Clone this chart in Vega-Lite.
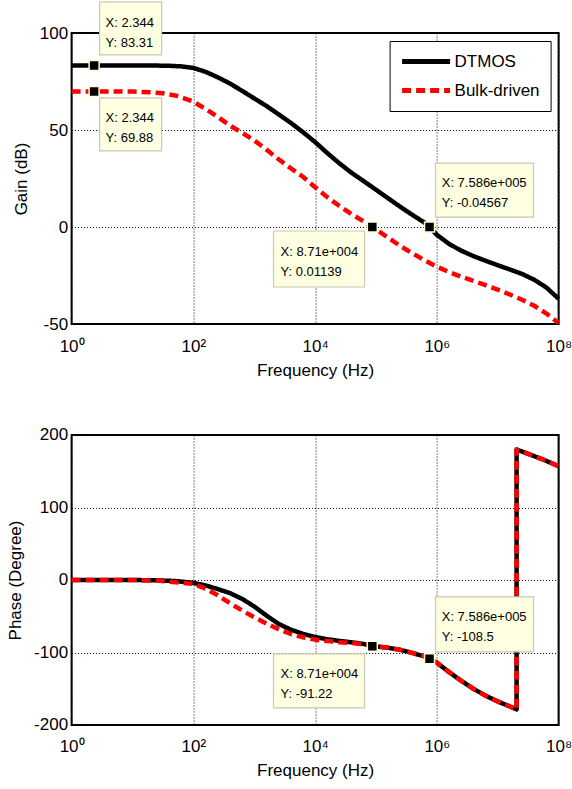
{
  "$schema": "https://vega.github.io/schema/vega-lite/v6.json",
  "background": "white",
  "autosize": {"type": "pad"},
  "padding": {"left": 4.6, "top": -2, "right": 0, "bottom": 0},
  "bounds": "flush",
  "spacing": 111,
  "config": {
    "font": "Liberation Sans",
    "view": {"stroke": "#000", "strokeWidth": 2},
    "axis": {"domain": false, "ticks": false, "grid": true, "gridColor": "#000", "gridDash": [1, 2], "gridWidth": 1, "gridOpacity": 1, "labelFont": "Liberation Sans", "labelFontSize": 17, "labelColor": "#000", "labelFlush": false, "labelOverlap": false, "titleFont": "Liberation Sans", "titleFontSize": 17, "titleFontWeight": "normal", "titleColor": "#000"},
    "axisX": {"labelPadding": 14, "titlePadding": 8},
    "axisY": {"labelPadding": 4, "titlePadding": 9}
  },
  "datasets": {
    "gain": [
      {"freq": 1, "gain": 83.31, "series": "DTMOS"},
      {"freq": 2.344, "gain": 83.31, "series": "DTMOS"},
      {"freq": 10, "gain": 83.3, "series": "DTMOS"},
      {"freq": 25.12, "gain": 83.2, "series": "DTMOS"},
      {"freq": 39.81, "gain": 83.1, "series": "DTMOS"},
      {"freq": 63.1, "gain": 82.8, "series": "DTMOS"},
      {"freq": 100, "gain": 82, "series": "DTMOS"},
      {"freq": 158.5, "gain": 80, "series": "DTMOS"},
      {"freq": 251.2, "gain": 77.2, "series": "DTMOS"},
      {"freq": 398.1, "gain": 74, "series": "DTMOS"},
      {"freq": 631, "gain": 70.2, "series": "DTMOS"},
      {"freq": 1000, "gain": 66.3, "series": "DTMOS"},
      {"freq": 1585, "gain": 62.4, "series": "DTMOS"},
      {"freq": 2512, "gain": 58.1, "series": "DTMOS"},
      {"freq": 3981, "gain": 53.7, "series": "DTMOS"},
      {"freq": 6310, "gain": 48.9, "series": "DTMOS"},
      {"freq": 10000, "gain": 43.8, "series": "DTMOS"},
      {"freq": 15850, "gain": 38.1, "series": "DTMOS"},
      {"freq": 25120, "gain": 32.8, "series": "DTMOS"},
      {"freq": 39810, "gain": 27.9, "series": "DTMOS"},
      {"freq": 63100, "gain": 23.6, "series": "DTMOS"},
      {"freq": 100000, "gain": 19.2, "series": "DTMOS"},
      {"freq": 158500, "gain": 14.8, "series": "DTMOS"},
      {"freq": 251200, "gain": 10.4, "series": "DTMOS"},
      {"freq": 398100, "gain": 6.2, "series": "DTMOS"},
      {"freq": 631000, "gain": 2.2, "series": "DTMOS"},
      {"freq": 758600, "gain": -0.04567, "series": "DTMOS"},
      {"freq": 1000000, "gain": -4, "series": "DTMOS"},
      {"freq": 1585000, "gain": -8.7, "series": "DTMOS"},
      {"freq": 2512000, "gain": -12.2, "series": "DTMOS"},
      {"freq": 3981000, "gain": -15, "series": "DTMOS"},
      {"freq": 6310000, "gain": -17.4, "series": "DTMOS"},
      {"freq": 10000000, "gain": -19.7, "series": "DTMOS"},
      {"freq": 15850000, "gain": -21.9, "series": "DTMOS"},
      {"freq": 25120000, "gain": -24.2, "series": "DTMOS"},
      {"freq": 39810000, "gain": -27.2, "series": "DTMOS"},
      {"freq": 63100000, "gain": -31.2, "series": "DTMOS"},
      {"freq": 100000000, "gain": -37, "series": "DTMOS"},
      {"freq": 1, "gain": 69.88, "series": "Bulk-driven"},
      {"freq": 2.344, "gain": 69.88, "series": "Bulk-driven"},
      {"freq": 10, "gain": 69.8, "series": "Bulk-driven"},
      {"freq": 19.95, "gain": 69.5, "series": "Bulk-driven"},
      {"freq": 31.62, "gain": 68.9, "series": "Bulk-driven"},
      {"freq": 50.12, "gain": 67.8, "series": "Bulk-driven"},
      {"freq": 70.79, "gain": 66.3, "series": "Bulk-driven"},
      {"freq": 100, "gain": 64.6, "series": "Bulk-driven"},
      {"freq": 158.5, "gain": 60.9, "series": "Bulk-driven"},
      {"freq": 251.2, "gain": 56.8, "series": "Bulk-driven"},
      {"freq": 398.1, "gain": 52.3, "series": "Bulk-driven"},
      {"freq": 631, "gain": 48.6, "series": "Bulk-driven"},
      {"freq": 1000, "gain": 44.6, "series": "Bulk-driven"},
      {"freq": 1585, "gain": 39.9, "series": "Bulk-driven"},
      {"freq": 2512, "gain": 34.9, "series": "Bulk-driven"},
      {"freq": 3981, "gain": 30.3, "series": "Bulk-driven"},
      {"freq": 6310, "gain": 25.9, "series": "Bulk-driven"},
      {"freq": 10000, "gain": 20.5, "series": "Bulk-driven"},
      {"freq": 15850, "gain": 15.4, "series": "Bulk-driven"},
      {"freq": 25120, "gain": 10.8, "series": "Bulk-driven"},
      {"freq": 39810, "gain": 6.6, "series": "Bulk-driven"},
      {"freq": 63100, "gain": 2.8, "series": "Bulk-driven"},
      {"freq": 87100, "gain": 0.01139, "series": "Bulk-driven"},
      {"freq": 100000, "gain": -1.2, "series": "Bulk-driven"},
      {"freq": 158500, "gain": -5.5, "series": "Bulk-driven"},
      {"freq": 251200, "gain": -9.8, "series": "Bulk-driven"},
      {"freq": 398100, "gain": -13.6, "series": "Bulk-driven"},
      {"freq": 631000, "gain": -17.2, "series": "Bulk-driven"},
      {"freq": 1000000, "gain": -20.5, "series": "Bulk-driven"},
      {"freq": 1585000, "gain": -23.2, "series": "Bulk-driven"},
      {"freq": 2512000, "gain": -25.6, "series": "Bulk-driven"},
      {"freq": 3981000, "gain": -27.8, "series": "Bulk-driven"},
      {"freq": 6310000, "gain": -30, "series": "Bulk-driven"},
      {"freq": 10000000, "gain": -32.3, "series": "Bulk-driven"},
      {"freq": 15850000, "gain": -34.8, "series": "Bulk-driven"},
      {"freq": 25120000, "gain": -37.5, "series": "Bulk-driven"},
      {"freq": 39810000, "gain": -40.6, "series": "Bulk-driven"},
      {"freq": 63100000, "gain": -44.6, "series": "Bulk-driven"},
      {"freq": 100000000, "gain": -49.5, "series": "Bulk-driven"}
    ],
    "phase": [
      {"freq": 1, "phase": 0, "series": "DTMOS"},
      {"freq": 10, "phase": 0, "series": "DTMOS"},
      {"freq": 25.12, "phase": -0.5, "series": "DTMOS"},
      {"freq": 50.12, "phase": -1.4, "series": "DTMOS"},
      {"freq": 100, "phase": -3.9, "series": "DTMOS"},
      {"freq": 158.5, "phase": -7.5, "series": "DTMOS"},
      {"freq": 251.2, "phase": -12.5, "series": "DTMOS"},
      {"freq": 398.1, "phase": -18, "series": "DTMOS"},
      {"freq": 631, "phase": -26, "series": "DTMOS"},
      {"freq": 1000, "phase": -36.5, "series": "DTMOS"},
      {"freq": 1585, "phase": -49, "series": "DTMOS"},
      {"freq": 2512, "phase": -60.5, "series": "DTMOS"},
      {"freq": 3981, "phase": -68.5, "series": "DTMOS"},
      {"freq": 6310, "phase": -74.2, "series": "DTMOS"},
      {"freq": 10000, "phase": -78.6, "series": "DTMOS"},
      {"freq": 15850, "phase": -81.8, "series": "DTMOS"},
      {"freq": 25120, "phase": -84, "series": "DTMOS"},
      {"freq": 39810, "phase": -86, "series": "DTMOS"},
      {"freq": 63100, "phase": -88.3, "series": "DTMOS"},
      {"freq": 87100, "phase": -91.22, "series": "DTMOS"},
      {"freq": 100000, "phase": -91.6, "series": "DTMOS"},
      {"freq": 158500, "phase": -93.5, "series": "DTMOS"},
      {"freq": 251200, "phase": -96.3, "series": "DTMOS"},
      {"freq": 398100, "phase": -100.7, "series": "DTMOS"},
      {"freq": 631000, "phase": -105.5, "series": "DTMOS"},
      {"freq": 758600, "phase": -108.5, "series": "DTMOS"},
      {"freq": 1000000, "phase": -114, "series": "DTMOS"},
      {"freq": 1585000, "phase": -127, "series": "DTMOS"},
      {"freq": 2512000, "phase": -139, "series": "DTMOS"},
      {"freq": 3981000, "phase": -150, "series": "DTMOS"},
      {"freq": 6310000, "phase": -159.5, "series": "DTMOS"},
      {"freq": 10000000, "phase": -167.5, "series": "DTMOS"},
      {"freq": 15850000, "phase": -174.5, "series": "DTMOS"},
      {"freq": 20420000, "phase": -178.5, "series": "DTMOS"},
      {"freq": 20430000, "phase": 180, "series": "DTMOS"},
      {"freq": 31620000, "phase": 174, "series": "DTMOS"},
      {"freq": 56230000, "phase": 166, "series": "DTMOS"},
      {"freq": 100000000, "phase": 157, "series": "DTMOS"},
      {"freq": 1, "phase": 0, "series": "Bulk-driven"},
      {"freq": 10, "phase": 0, "series": "Bulk-driven"},
      {"freq": 25.12, "phase": -0.8, "series": "Bulk-driven"},
      {"freq": 50.12, "phase": -3, "series": "Bulk-driven"},
      {"freq": 100, "phase": -5.3, "series": "Bulk-driven"},
      {"freq": 158.5, "phase": -12, "series": "Bulk-driven"},
      {"freq": 251.2, "phase": -21, "series": "Bulk-driven"},
      {"freq": 398.1, "phase": -32, "series": "Bulk-driven"},
      {"freq": 631, "phase": -42, "series": "Bulk-driven"},
      {"freq": 1000, "phase": -51.5, "series": "Bulk-driven"},
      {"freq": 1585, "phase": -60, "series": "Bulk-driven"},
      {"freq": 2512, "phase": -67.8, "series": "Bulk-driven"},
      {"freq": 3981, "phase": -74.3, "series": "Bulk-driven"},
      {"freq": 6310, "phase": -79, "series": "Bulk-driven"},
      {"freq": 10000, "phase": -82.3, "series": "Bulk-driven"},
      {"freq": 15850, "phase": -84.2, "series": "Bulk-driven"},
      {"freq": 25120, "phase": -85.8, "series": "Bulk-driven"},
      {"freq": 39810, "phase": -87, "series": "Bulk-driven"},
      {"freq": 63100, "phase": -88.6, "series": "Bulk-driven"},
      {"freq": 87100, "phase": -91.22, "series": "Bulk-driven"},
      {"freq": 100000, "phase": -91.6, "series": "Bulk-driven"},
      {"freq": 158500, "phase": -93.5, "series": "Bulk-driven"},
      {"freq": 251200, "phase": -96.3, "series": "Bulk-driven"},
      {"freq": 398100, "phase": -100.7, "series": "Bulk-driven"},
      {"freq": 631000, "phase": -105.5, "series": "Bulk-driven"},
      {"freq": 758600, "phase": -108.5, "series": "Bulk-driven"},
      {"freq": 1000000, "phase": -114, "series": "Bulk-driven"},
      {"freq": 1585000, "phase": -127, "series": "Bulk-driven"},
      {"freq": 2512000, "phase": -139, "series": "Bulk-driven"},
      {"freq": 3981000, "phase": -150, "series": "Bulk-driven"},
      {"freq": 6310000, "phase": -159.5, "series": "Bulk-driven"},
      {"freq": 10000000, "phase": -167.5, "series": "Bulk-driven"},
      {"freq": 15850000, "phase": -174.5, "series": "Bulk-driven"},
      {"freq": 20420000, "phase": -178.5, "series": "Bulk-driven"},
      {"freq": 20430000, "phase": 180, "series": "Bulk-driven"},
      {"freq": 31620000, "phase": 174, "series": "Bulk-driven"},
      {"freq": 56230000, "phase": 166, "series": "Bulk-driven"},
      {"freq": 100000000, "phase": 157, "series": "Bulk-driven"}
    ],
    "gainTips": [
      {"freq": 2.344, "gain": 83.31, "label": "X: 2.344\nY: 83.31"},
      {"freq": 2.344, "gain": 69.88, "label": "X: 2.344\nY: 69.88"},
      {"freq": 87100, "gain": 0.01139, "label": "X: 8.71e+004\nY: 0.01139"},
      {"freq": 758600, "gain": -0.04567, "label": "X: 7.586e+005\nY: -0.04567"}
    ],
    "phaseTips": [
      {"freq": 87100, "phase": -91.22, "label": "X: 8.71e+004\nY: -91.22"},
      {"freq": 758600, "phase": -108.5, "label": "X: 7.586e+005\nY: -108.5"}
    ]
  },
  "resolve": {"scale": {"color": "independent", "strokeDash": "independent"}},
  "vconcat": [
    {
      "width": 487,
      "height": 291,
      "encoding": {
        "x": {"field": "freq", "type": "quantitative", "scale": {"type": "log", "domain": [1, 100000000], "nice": false}, "axis": {"values": [1, 100, 10000, 1000000, 100000000], "title": "Frequency (Hz)", "labelExpr": "'10' + ['⁰','¹','²','³','⁴','⁵','⁶','⁷','⁸'][round(log(datum.value)/LN10)]"}},
        "y": {"field": "gain", "type": "quantitative", "scale": {"domain": [-50, 100], "nice": false, "zero": false}, "axis": {"values": [-50, 0, 50, 100], "title": "Gain (dB)", "labelExpr": "'' + datum.value"}}
      },
      "layer": [
        {
          "data": {"name": "gain"},
          "transform": [{"filter": "datum.series === 'DTMOS'"}],
          "mark": {"type": "line", "strokeWidth": 4.5, "strokeCap": "butt", "strokeJoin": "round"},
          "encoding": {
            "color": {"field": "series", "type": "nominal", "scale": {"domain": ["DTMOS", "Bulk-driven"], "range": ["#000000", "#ff0000"]}, "legend": {"orient": "top-right", "offset": 8, "title": null, "fillColor": "white", "strokeColor": "#000", "padding": 10, "rowPadding": 8, "labelFontSize": 17, "labelFont": "Liberation Sans", "labelColor": "#000", "symbolType": "M-1,0L5,0", "symbolSize": 256, "symbolStrokeWidth": 5, "labelOffset": 34, "cornerRadius": 0}},
            "strokeDash": {"field": "series", "type": "nominal", "scale": {"domain": ["DTMOS", "Bulk-driven"], "range": [[1, 0], [9, 5]]}, "legend": {"orient": "top-right", "offset": 8, "title": null, "fillColor": "white", "strokeColor": "#000", "padding": 10, "rowPadding": 8, "labelFontSize": 17, "labelFont": "Liberation Sans", "labelColor": "#000", "symbolType": "M-1,0L5,0", "symbolSize": 256, "symbolStrokeWidth": 5, "labelOffset": 34, "cornerRadius": 0}}
          }
        },
        {
          "data": {"name": "gain"},
          "transform": [{"filter": "datum.series === 'Bulk-driven'"}],
          "mark": {"type": "line", "strokeWidth": 4.5, "strokeCap": "butt", "strokeJoin": "round"},
          "encoding": {
            "color": {"field": "series", "type": "nominal", "scale": {"domain": ["DTMOS", "Bulk-driven"], "range": ["#000000", "#ff0000"]}},
            "strokeDash": {"field": "series", "type": "nominal", "scale": {"domain": ["DTMOS", "Bulk-driven"], "range": [[1, 0], [9, 5]]}}
          }
        },
        {
          "data": {"name": "gainTips"},
          "transform": [{"filter": "datum.freq < 10 && datum.gain > 75"}],
          "mark": {"type": "point", "shape": "M-1.17,-1L1.17,-1L1.17,1L-1.17,1Z", "size": 2809, "filled": true, "fill": "#ffffe1", "stroke": "#c8c8b4", "strokeWidth": 1.2, "opacity": 1, "xOffset": 36.5, "yOffset": -37}
        },
        {
          "data": {"name": "gainTips"},
          "transform": [{"filter": "datum.freq < 10 && datum.gain < 75"}],
          "mark": {"type": "point", "shape": "M-1.17,-1L1.17,-1L1.17,1L-1.17,1Z", "size": 2809, "filled": true, "fill": "#ffffe1", "stroke": "#c8c8b4", "strokeWidth": 1.2, "opacity": 1, "xOffset": 36.5, "yOffset": 33}
        },
        {
          "data": {"name": "gainTips"},
          "transform": [{"filter": "datum.freq > 80000 && datum.freq < 100000"}],
          "mark": {"type": "point", "shape": "M-1.625,-1L1.625,-1L1.625,1L-1.625,1Z", "size": 3136, "filled": true, "fill": "#ffffe1", "stroke": "#c8c8b4", "strokeWidth": 1.2, "opacity": 1, "xOffset": -53.3, "yOffset": 32}
        },
        {
          "data": {"name": "gainTips"},
          "transform": [{"filter": "datum.freq > 700000"}],
          "mark": {"type": "point", "shape": "M-1.815,-1L1.815,-1L1.815,1L-1.815,1Z", "size": 2916, "filled": true, "fill": "#ffffe1", "stroke": "#c8c8b4", "strokeWidth": 1.2, "opacity": 1, "xOffset": 55, "yOffset": -37}
        },
        {
          "data": {"name": "gainTips"},
          "transform": [{"filter": "datum.freq < 10 && datum.gain > 75"}],
          "mark": {"type": "text", "align": "left", "baseline": "middle", "dx": 11.5, "dy": -42.7, "fontSize": 13, "lineHeight": 20, "lineBreak": "\n", "font": "Liberation Sans", "color": "#000"},
          "encoding": {"text": {"field": "label", "type": "nominal"}}
        },
        {
          "data": {"name": "gainTips"},
          "transform": [{"filter": "datum.freq < 10 && datum.gain < 75"}],
          "mark": {"type": "text", "align": "left", "baseline": "middle", "dx": 11.5, "dy": 26.3, "fontSize": 13, "lineHeight": 20, "lineBreak": "\n", "font": "Liberation Sans", "color": "#000"},
          "encoding": {"text": {"field": "label", "type": "nominal"}}
        },
        {
          "data": {"name": "gainTips"},
          "transform": [{"filter": "datum.freq > 80000 && datum.freq < 100000"}],
          "mark": {"type": "text", "align": "left", "baseline": "middle", "dx": -91.8, "dy": 25.4, "fontSize": 13, "lineHeight": 20, "lineBreak": "\n", "font": "Liberation Sans", "color": "#000"},
          "encoding": {"text": {"field": "label", "type": "nominal"}}
        },
        {
          "data": {"name": "gainTips"},
          "transform": [{"filter": "datum.freq > 700000"}],
          "mark": {"type": "text", "align": "left", "baseline": "middle", "dx": 12.2, "dy": -43.7, "fontSize": 13, "lineHeight": 20, "lineBreak": "\n", "font": "Liberation Sans", "color": "#000"},
          "encoding": {"text": {"field": "label", "type": "nominal"}}
        },
        {
          "data": {"name": "gainTips"},
          "mark": {"type": "point", "shape": "square", "size": 100, "filled": true, "fill": "#000", "stroke": "#ffffd0", "strokeWidth": 1.5, "opacity": 1}
        }
      ]
    },
    {
      "width": 487,
      "height": 290,
      "encoding": {
        "x": {"field": "freq", "type": "quantitative", "scale": {"type": "log", "domain": [1, 100000000], "nice": false}, "axis": {"values": [1, 100, 10000, 1000000, 100000000], "title": "Frequency (Hz)", "labelExpr": "'10' + ['⁰','¹','²','³','⁴','⁵','⁶','⁷','⁸'][round(log(datum.value)/LN10)]"}},
        "y": {"field": "phase", "type": "quantitative", "scale": {"domain": [-200, 200], "nice": false, "zero": false}, "axis": {"values": [-200, -100, 0, 100, 200], "title": "Phase (Degree)", "labelExpr": "'' + datum.value"}}
      },
      "layer": [
        {
          "data": {"name": "phase"},
          "transform": [{"filter": "datum.series === 'DTMOS'"}],
          "mark": {"type": "line", "strokeWidth": 4.5, "strokeCap": "butt", "strokeJoin": "round"},
          "encoding": {
            "color": {"field": "series", "type": "nominal", "scale": {"domain": ["DTMOS", "Bulk-driven"], "range": ["#000000", "#ff0000"]}, "legend": null},
            "strokeDash": {"field": "series", "type": "nominal", "scale": {"domain": ["DTMOS", "Bulk-driven"], "range": [[1, 0], [9, 5]]}, "legend": null}
          }
        },
        {
          "data": {"name": "phase"},
          "transform": [{"filter": "datum.series === 'Bulk-driven'"}],
          "mark": {"type": "line", "strokeWidth": 4.5, "strokeCap": "butt", "strokeJoin": "round"},
          "encoding": {
            "color": {"field": "series", "type": "nominal", "scale": {"domain": ["DTMOS", "Bulk-driven"], "range": ["#000000", "#ff0000"]}, "legend": null},
            "strokeDash": {"field": "series", "type": "nominal", "scale": {"domain": ["DTMOS", "Bulk-driven"], "range": [[1, 0], [9, 5]]}, "legend": null}
          }
        },
        {
          "data": {"name": "phaseTips"},
          "transform": [{"filter": "datum.freq < 100000"}],
          "mark": {"type": "point", "shape": "M-1.685,-1L1.685,-1L1.685,1L-1.685,1Z", "size": 2916, "filled": true, "fill": "#ffffe1", "stroke": "#c8c8b4", "strokeWidth": 1.2, "opacity": 1, "xOffset": -53.3, "yOffset": 34.7}
        },
        {
          "data": {"name": "phaseTips"},
          "transform": [{"filter": "datum.freq > 700000"}],
          "mark": {"type": "point", "shape": "M-1.782,-1L1.782,-1L1.782,1L-1.782,1Z", "size": 3025, "filled": true, "fill": "#ffffe1", "stroke": "#c8c8b4", "strokeWidth": 1.2, "opacity": 1, "xOffset": 55, "yOffset": -34.3}
        },
        {
          "data": {"name": "phaseTips"},
          "transform": [{"filter": "datum.freq < 100000"}],
          "mark": {"type": "text", "align": "left", "baseline": "middle", "dx": -91.8, "dy": 27.4, "fontSize": 13, "lineHeight": 20, "lineBreak": "\n", "font": "Liberation Sans", "color": "#000"},
          "encoding": {"text": {"field": "label", "type": "nominal"}}
        },
        {
          "data": {"name": "phaseTips"},
          "transform": [{"filter": "datum.freq > 700000"}],
          "mark": {"type": "text", "align": "left", "baseline": "middle", "dx": 12.2, "dy": -41.8, "fontSize": 13, "lineHeight": 20, "lineBreak": "\n", "font": "Liberation Sans", "color": "#000"},
          "encoding": {"text": {"field": "label", "type": "nominal"}}
        },
        {
          "data": {"name": "phaseTips"},
          "mark": {"type": "point", "shape": "square", "size": 100, "filled": true, "fill": "#000", "stroke": "#ffffd0", "strokeWidth": 1.5, "opacity": 1}
        }
      ]
    }
  ]
}
